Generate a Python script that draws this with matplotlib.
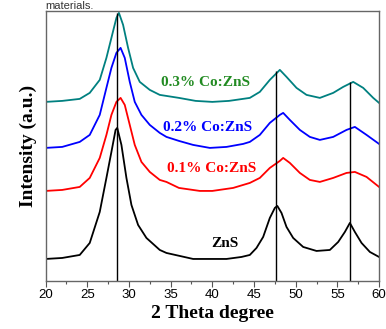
import numpy as np
import matplotlib.pyplot as plt

# XRD patterns (2 theta in degrees, intensity in a.u.)
x_03 = [20, 22, 24.1, 25.3, 26.5, 27.3, 27.9, 28.5, 28.8, 29.3, 29.9, 30.5, 31.3, 32.5, 33.7, 36, 38, 40,
        42, 44.5, 45.7, 46.9, 48.1, 48.9, 50.1, 51.3, 52.9, 54.5, 55.7, 56.9, 58.1, 59.3, 60]
y_03 = [179, 180, 182, 188, 201, 223, 243, 263, 268, 256, 233, 213, 199, 191, 186, 183, 180, 179,
        180, 183, 189, 201, 211, 204, 193, 186, 183, 188, 194, 199, 193, 183, 178]

x_02 = [20, 22, 24.1, 25.3, 26.5, 27.3, 27.9, 28.5, 29.0, 29.5, 30.1, 30.7, 31.5, 32.5, 33.7, 34.5, 36,
        37.7, 39.7, 41.7, 43.7, 44.5, 45.7, 46.9, 48.1, 48.5, 49.3, 50.5, 51.7, 52.9, 54.5, 56.1, 57.1,
        58.5, 60]
y_02 = [133, 134, 139, 146, 166, 193, 213, 228, 233, 223, 199, 179, 166, 156, 148, 144, 140,
        136, 133, 134, 137, 139, 146, 158, 166, 168, 161, 151, 144, 141, 144, 151, 154,
        146, 137]

x_01 = [20, 22, 24.1, 25.3, 26.5, 27.3, 27.9, 28.5, 29.0, 29.5, 30.1, 30.7, 31.5, 32.5, 33.7, 34.5, 36,
        38.5, 40, 42.5, 44.5, 45.7, 46.9, 48.1, 48.5, 49.3, 50.5, 51.7, 52.9, 54.5, 56.1, 57.1, 58.5, 60]
y_01 = [90, 91, 94, 103, 123, 146, 166, 179, 183, 176, 156, 136, 119, 109, 101, 99, 93,
        90, 90, 93, 98, 103, 113, 120, 123, 118, 108, 101, 99, 103, 108, 109, 104, 94]

x_zns = [20, 22, 24.1, 25.3, 26.5, 27.3, 27.9, 28.4, 28.6, 29.1, 29.7, 30.3, 31.1, 32.1, 33.7, 34.5,
         37.7, 41.7, 43.5, 44.5, 45.3, 46.1, 46.9, 47.5, 47.8, 48.3, 48.9, 49.7, 50.9, 52.5, 54.1,
         55.1, 55.9, 56.5, 57.1, 57.9, 58.9, 60]
y_zns = [22, 23, 26, 38, 69, 103, 129, 151, 153, 136, 103, 76, 56, 43, 31, 28,
         22, 22, 24, 26, 33, 44, 63, 73, 75, 68, 54, 43, 34, 30, 31,
         39, 49, 58, 49, 38, 29, 24]

# reference peak lines
peak_pos = [28.6, 47.7, 56.55]
peak_top = [268, 210, 199]

fig = plt.figure(figsize=(3.86, 3.29), dpi=100)
ax = fig.add_axes([0.118, 0.146, 0.864, 0.821])

ax.plot(x_zns, y_zns, color='black', lw=1.3)
ax.plot(x_01, y_01, color='#ff0000', lw=1.3)
ax.plot(x_02, y_02, color='#0000ff', lw=1.3)
ax.plot(x_03, y_03, color='#008080', lw=1.3)

ax.vlines(peak_pos, 0, peak_top, color='black', lw=1.0)

lab = dict(fontfamily='Liberation Serif', fontweight='bold', fontsize=11, ha='center', va='center')
ax.text(39.2, 198, '0.3% Co:ZnS', color='#228B22', **lab)
ax.text(39.4, 153, '0.2% Co:ZnS', color='#0000ff', **lab)
ax.text(39.9, 112, '0.1% Co:ZnS', color='#ff0000', **lab)
ax.text(41.5, 37, 'ZnS', color='black', **lab)

ax.set_xlim(20, 60)
ax.set_ylim(0, 270)
ax.set_xticks(range(20, 61, 5))
ax.set_xticks(np.arange(22.5, 60, 5), minor=True)
ax.set_yticks([])
ax.tick_params(axis='x', direction='out', length=4, width=0.8, color='#555555',
               labelsize=9.5, pad=2)
ax.tick_params(axis='x', which='minor', length=2, width=0.8, color='#555555')
for lbl in ax.get_xticklabels():
    lbl.set_fontfamily('Liberation Sans')
for s in ax.spines.values():
    s.set_color('#666666')
    s.set_linewidth(1.0)

ax.set_xlabel('2 Theta degree', fontfamily='Liberation Serif', fontweight='bold', fontsize=14, labelpad=3)
ax.set_ylabel('Intensity (a.u.)', fontfamily='Liberation Serif', fontweight='bold', fontsize=14, labelpad=6)

# bit of the surrounding page text above the chart
fig.text(45 / 386, 1 - 9 / 329, 'materials.', fontfamily='Liberation Sans', fontsize=8,
         color='#333333', va='baseline')

fig.savefig('out.png', dpi=100)
